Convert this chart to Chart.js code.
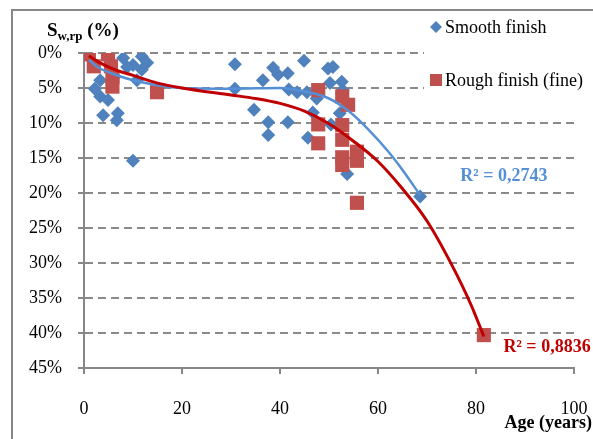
<!DOCTYPE html>
<html>
<head>
<meta charset="utf-8">
<script src="https://cdn.jsdelivr.net/npm/chart.js@4.4.1/dist/chart.umd.min.js"></script>
<style>
  html, body { margin: 0; padding: 0; background: #fff; }
  canvas { display: block; }
</style>
</head>
<body>
<canvas id="chart" width="593" height="439"></canvas>
<script>
// Smooth finish samples: age (years) and S_w,rp (%)
const smoothAge = [2.2, 3.3, 4.9, 3.9, 6.9, 6.7, 10, 8, 11.8, 10, 11.8, 10.8, 8.8, 3.3, 6.3, 12.9,
  30.8, 30.8, 34.7, 36.5, 38.6, 39.6, 41.6, 37.6, 37.6, 41.6, 41.8, 43.5, 44.9, 45.5, 47.5, 46.7,
  45.7, 49.8, 50.8, 50.2, 52.6, 50.4, 52.2, 52.8, 53.7, 68.6];
const smoothSw = [5.1, 6.2, 6.7, 8.9, 8.6, 9.6, 15.4, 0.7, 0.5, 1.7, 2.4, 3.9, 2.0, 3.9, 3.4, 1.4,
  1.6, 5.1, 8.1, 3.9, 2.1, 3.1, 2.9, 9.9, 11.7, 9.9, 5.2, 5.6, 1.1, 5.6, 6.5, 8.5,
  12.1, 2.2, 2.0, 4.3, 4.1, 10.2, 8.6, 5.3, 17.3, 20.5];

// Rough finish (fine) samples
const roughAge = [1, 2, 4.9, 5.5, 5.8, 5.8, 14.9, 47.8, 47.8, 47.8, 52.7, 53.9, 52.7, 52.7, 52.7, 52.7,
  55.7, 55.7, 55.7, 81.6];
const roughSw = [0.2, 1.9, 0.2, 1.9, 3.4, 4.8, 5.6, 5.3, 10.2, 12.9, 6.2, 7.4, 10.3, 12.4, 14.9, 16.0,
  14.1, 15.4, 21.4, 40.3];

// Trendlines
const smoothTrendAge = [1, 3, 6, 10, 15, 20, 30, 40, 45, 50, 54, 58, 62, 65, 68.6];
const smoothTrendSw = [1.0, 2.1, 3.0, 3.9, 4.6, 5.0, 5.1, 5.0, 5.5, 6.5, 8.3, 10.9, 14.0, 16.7, 20.3];
const roughTrendAge = [1, 3, 6, 10, 15, 20, 30, 35, 40, 45, 50, 55, 60, 65, 70, 75, 79, 81.6];
const roughTrendSw = [0.4, 1.3, 2.3, 3.2, 4.3, 5.0, 6.0, 6.5, 7.2, 8.3, 10.1, 12.6, 15.5, 19.4, 24.0, 30.2, 36.0, 40.5];

const smoothR2 = '0,2743';
const roughR2 = '0,8836';

const xTicks = [0, 20, 40, 60, 80, 100];
const yTicks = [0, 5, 10, 15, 20, 25, 30, 35, 40, 45];

const SERIF = '"Liberation Serif", "Times New Roman", serif';
const BLUE = '#4f81bd';
const RED = '#c0504d';
const BLUE_LINE = '#5590d6';
const RED_LINE = '#c00000';
const AXIS_GREY = '#878787';

const toPoints = (xs, ys) => xs.map((x, i) => ({ x, y: ys[i] }));

// Titles, legend, R² labels and the outer frame
const decorations = {
  id: 'decorations',
  afterDraw(chart) {
    const { ctx, scales: { x, y } } = chart;
    ctx.save();

    // frame
    ctx.strokeStyle = AXIS_GREY;
    ctx.lineWidth = 2;
    ctx.beginPath();
    ctx.moveTo(12, 439);
    ctx.lineTo(12, 10);
    ctx.lineTo(593, 10);
    ctx.stroke();

    // legend
    ctx.fillStyle = '#fff';
    ctx.fillRect(424, 12, 169, 92);
    ctx.fillStyle = BLUE;
    ctx.beginPath();
    ctx.moveTo(436, 21);
    ctx.lineTo(442, 27);
    ctx.lineTo(436, 33);
    ctx.lineTo(430, 27);
    ctx.closePath();
    ctx.fill();
    ctx.fillStyle = RED;
    ctx.fillRect(430, 74, 12, 12);
    ctx.fillStyle = '#000';
    ctx.font = '18px ' + SERIF;
    ctx.textAlign = 'left';
    ctx.textBaseline = 'alphabetic';
    ctx.fillText('Smooth finish', 445, 33);
    ctx.fillText('Rough finish (fine)', 445, 86);

    // y axis title: S with subscript w,rp
    ctx.font = 'bold 19px ' + SERIF;
    ctx.fillText('S', 47, 36);
    let cx = 47 + ctx.measureText('S').width;
    ctx.font = 'bold 13px ' + SERIF;
    ctx.fillText('w,rp', cx, 40);
    cx += ctx.measureText('w,rp').width;
    ctx.font = 'bold 19px ' + SERIF;
    ctx.fillText(' (%)', cx, 36);

    // x axis title
    ctx.font = 'bold 18px ' + SERIF;
    ctx.textAlign = 'right';
    ctx.fillText('Age (years)', 592, 428);

    // R² labels
    ctx.textAlign = 'center';
    ctx.textBaseline = 'middle';
    ctx.fillStyle = BLUE_LINE;
    ctx.fillText('R² = ' + smoothR2, x.getPixelForValue(85.7), y.getPixelForValue(17.6));
    ctx.fillStyle = RED_LINE;
    ctx.fillText('R² = ' + roughR2, x.getPixelForValue(94.5), y.getPixelForValue(42));

    ctx.restore();
  }
};

new Chart(document.getElementById('chart'), {
  type: 'scatter',
  data: {
    datasets: [
      {
        label: 'Smooth finish',
        data: toPoints(smoothAge, smoothSw),
        pointStyle: 'rectRot',
        pointRadius: 7,
        pointBackgroundColor: BLUE,
        pointBorderWidth: 0,
        order: 4
      },
      {
        label: 'Rough finish (fine)',
        data: toPoints(roughAge, roughSw),
        pointStyle: 'rect',
        pointRadius: 10,
        pointBackgroundColor: RED,
        pointBorderWidth: 0,
        order: 3
      },
      {
        type: 'line',
        data: toPoints(smoothTrendAge, smoothTrendSw),
        borderColor: BLUE_LINE,
        borderWidth: 2.5,
        pointRadius: 0,
        cubicInterpolationMode: 'monotone',
        fill: false,
        order: 2
      },
      {
        type: 'line',
        data: toPoints(roughTrendAge, roughTrendSw),
        borderColor: RED_LINE,
        borderWidth: 3,
        pointRadius: 0,
        cubicInterpolationMode: 'monotone',
        fill: false,
        order: 1
      }
    ]
  },
  options: {
    responsive: false,
    animation: false,
    events: [],
    layout: { padding: { top: 53, right: 19, left: 0, bottom: 0 } },
    plugins: {
      legend: { display: false },
      tooltip: { enabled: false }
    },
    scales: {
      x: {
        type: 'linear',
        min: 0,
        max: 100,
        afterFit: (scale) => {
          scale.height = 71;
          scale.paddingLeft = 0;
          scale.paddingRight = 19;
        },
        afterBuildTicks: (scale) => { scale.ticks = xTicks.map(v => ({ value: v })); },
        grid: {
          drawOnChartArea: false,
          drawTicks: true,
          tickLength: 6,
          color: AXIS_GREY,
          lineWidth: 2
        },
        border: { display: true, color: AXIS_GREY, width: 2 },
        ticks: {
          color: '#000',
          padding: 24,
          font: { family: SERIF, size: 18 },
          maxRotation: 0
        }
      },
      y: {
        type: 'linear',
        min: 0,
        max: 45,
        reverse: true,
        afterFit: (scale) => {
          scale.width = 84;
          scale.paddingTop = 0;
          scale.paddingBottom = 0;
        },
        afterBuildTicks: (scale) => { scale.ticks = yTicks.map(v => ({ value: v })); },
        grid: {
          color: '#8a8a8a',
          lineWidth: 2,
          tickLength: 6,
          tickColor: AXIS_GREY
        },
        border: { display: true, color: AXIS_GREY, width: 2, dash: [8, 5] },
        ticks: {
          color: '#000',
          padding: 16,
          font: { family: SERIF, size: 18 },
          callback: (v) => v + '%'
        }
      }
    }
  },
  plugins: [decorations]
});
</script>
</body>
</html>
